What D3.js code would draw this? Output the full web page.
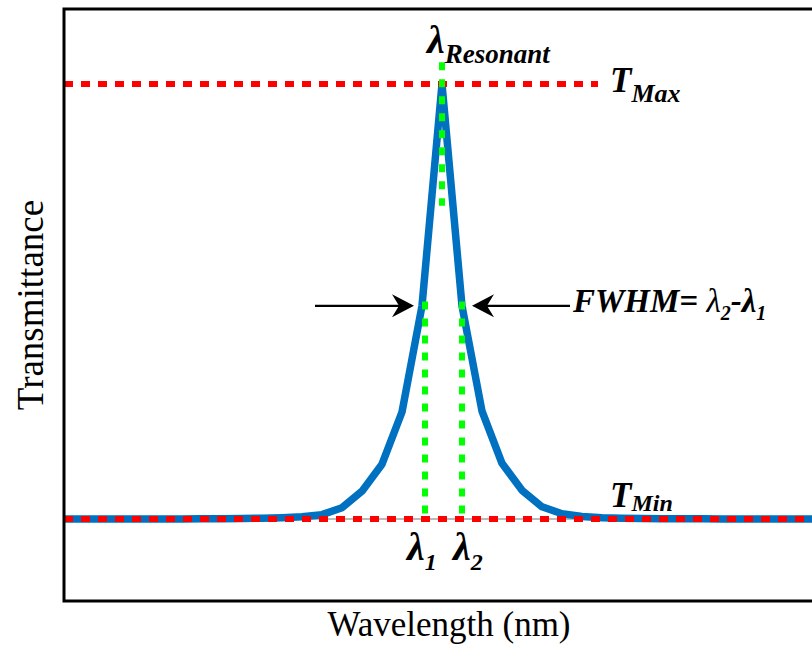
<!DOCTYPE html>
<html>
<head>
<meta charset="utf-8">
<script src="https://cdn.jsdelivr.net/npm/d3@7"></script>
<style>
  body { margin: 0; background: #fff; }
  svg text, svg tspan { font-family: 'Liberation Serif', 'DejaVu Serif', 'Times New Roman', Times, serif; }
</style>
</head>
<body>
<div class="chart"></div>
<script>
const W = 812, H = 648;
const margin = {top: 9, left: 64, right: 0, bottom: 47};

// spectrum samples (wavelength in nm, normalized transmittance)
const wavelength = [1531, 1532, 1533, 1534, 1535, 1536, 1537, 1538, 1539, 1540,
    1541, 1542, 1543, 1544, 1545, 1546, 1547, 1548, 1549, 1550,
    1551, 1552, 1553, 1554, 1555, 1556, 1557, 1558, 1559, 1560,
    1561, 1562, 1563, 1564, 1565, 1566, 1567, 1568, 1569];
const transmittance = [0, 0, 0, 0, 0, 0, 0, 0.0005, 0.0008, 0.001,
    0.002, 0.003, 0.005, 0.01, 0.026, 0.064, 0.126, 0.246, 0.49, 1.0,
    0.49, 0.248, 0.128, 0.066, 0.028, 0.012, 0.006, 0.003, 0.002, 0.001,
    0.0008, 0.0005, 0.0003, 0, 0, 0, 0, 0, 0];

const lambdaRes = 1550, lambda1 = 1549.15, lambda2 = 1551;
const tMax = 1, tMin = 0, tHalf = 0.49;
const xDomain = [1531.1, 1568.5];

const svg = d3.select('.chart').append('svg')
    .attr('width', W)
    .attr('height', H);

const x = d3.scaleLinear().domain(xDomain).range([margin.left, W]);
const y = d3.scaleLinear().domain([tMin, tMax]).range([519, 84]);

svg.append('clipPath').attr('id', 'plot')
    .append('rect')
    .attr('x', margin.left).attr('y', margin.top)
    .attr('width', W - margin.left + 20).attr('height', H - margin.top - margin.bottom);

const plot = svg.append('g').attr('clip-path', 'url(#plot)');

// thin baseline
plot.append('line')
    .attr('x1', x(xDomain[0])).attr('x2', x(xDomain[1]))
    .attr('y1', y(tMin)).attr('y2', y(tMin))
    .attr('stroke', '#777').attr('stroke-width', 1.2);

const data = wavelength.map((w, i) => ({w: w, t: transmittance[i]}));

const line = d3.line()
    .x(d => x(d.w))
    .y(d => y(d.t));

plot.append('path')
    .datum(data)
    .attr('fill', 'none')
    .attr('stroke', '#0070c0')
    .attr('stroke-width', 7.5)
    .attr('stroke-linejoin', 'round')
    .attr('d', line);

// red dotted Tmax / Tmin
[[xDomain[0], 1557.8, tMax], [xDomain[0], xDomain[1], tMin]].forEach(r => {
  plot.append('line')
    .attr('x1', x(r[0])).attr('x2', x(r[1]))
    .attr('y1', y(r[2])).attr('y2', y(r[2]))
    .attr('stroke', '#ff0000')
    .attr('stroke-width', 6)
    .attr('stroke-dasharray', '9,8');
});

// green dotted markers
[[lambdaRes, 1.05, 0.72], [lambda1, 0.5, tMin], [lambda2, 0.5, tMin]].forEach(g => {
  plot.append('line')
    .attr('x1', x(g[0])).attr('x2', x(g[0]))
    .attr('y1', y(g[1])).attr('y2', y(g[2]))
    .attr('stroke', '#00ff00')
    .attr('stroke-width', 6)
    .attr('stroke-dasharray', '8,9');
});

// FWHM arrows
function arrow(x0, x1, yy) {
  const dir = x1 > x0 ? 1 : -1;
  const L = 22, h = 11.5, n = 7;
  svg.append('line')
    .attr('x1', x0).attr('x2', x1 - dir * n)
    .attr('y1', yy).attr('y2', yy)
    .attr('stroke', '#000').attr('stroke-width', 2.2);
  svg.append('path')
    .attr('d', `M${x1},${yy} L${x1 - dir * L},${yy - h} L${x1 - dir * (L - n)},${yy} L${x1 - dir * L},${yy + h} Z`)
    .attr('fill', '#000');
}
arrow(x(1543.65), x(1548.6), y(tHalf));
arrow(x(1556.4), x(1551.5), y(tHalf));

// frame
svg.append('rect')
    .attr('x', margin.left).attr('y', margin.top)
    .attr('width', W + 20).attr('height', 601 - margin.top)
    .attr('fill', 'none')
    .attr('stroke', '#000')
    .attr('stroke-width', 3);

// annotations
function label(px, py, main, sub, mainSize, subSize, dy) {
  const t = svg.append('text')
    .attr('x', px).attr('y', py)
    .attr('font-weight', 700)
    .attr('font-style', 'italic')
    .attr('fill', '#000');
  t.append('tspan').attr('font-size', mainSize).text(main);
  t.append('tspan').attr('font-size', subSize).attr('dy', dy).text(sub);
  return t;
}

label(x(lambdaRes) - 15, y(tMax) - 31, 'λ', 'Resonant', 40, 27, 10);
label(x(1558.4), y(tMax) + 8, 'T', 'Max', 35, 26, 10);
label(x(1558.4), y(tMin) - 12, 'T', 'Min', 35, 24, 4);
label(x(lambda1) - 18, y(tMin) + 41, 'λ', '1', 40, 24, 10);
label(x(lambda2) - 9, y(tMin) + 41, 'λ', '2', 40, 24, 10);

const fw = svg.append('text')
    .attr('x', x(1556.55)).attr('y', y(tHalf) + 6)
    .attr('font-style', 'italic')
    .attr('fill', '#000');
fw.append('tspan').attr('font-weight', 700).attr('font-size', 33).text('FWHM= ');
fw.append('tspan').attr('font-size', 33).text('λ');
fw.append('tspan').attr('font-size', 20).attr('font-weight', 700).attr('dy', 8).text('2');
fw.append('tspan').attr('font-size', 33).attr('font-weight', 700).attr('dy', -8).text('-λ');
fw.append('tspan').attr('font-size', 20).attr('font-weight', 700).attr('dy', 8).text('1');

// axis titles
svg.append('text')
    .attr('x', 449).attr('y', 636)
    .attr('text-anchor', 'middle')
    .attr('font-size', 35)
    .text('Wavelength (nm)');

svg.append('text')
    .attr('transform', 'translate(43,305) rotate(-90)')
    .attr('text-anchor', 'middle')
    .attr('font-size', 37)
    .text('Transmittance');
</script>
</body>
</html>
